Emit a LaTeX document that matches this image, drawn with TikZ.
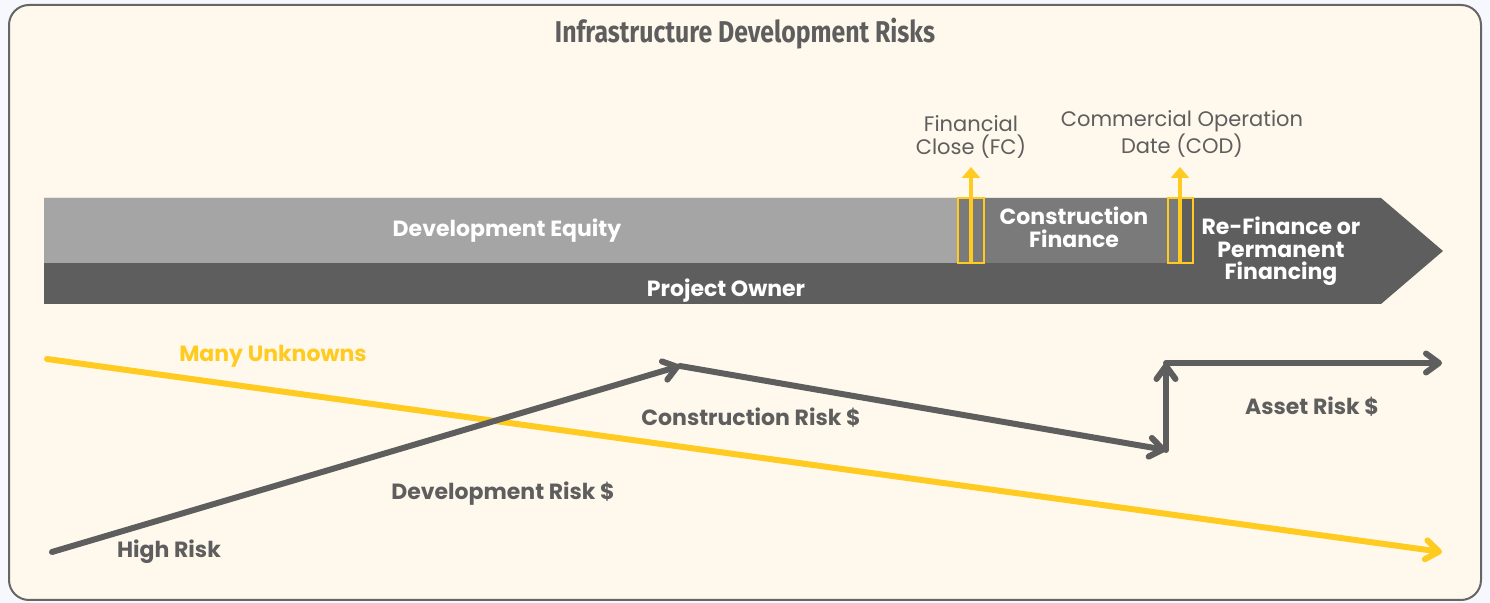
\documentclass[tikz,border=0pt]{standalone}
\usepackage{fontspec}
\setmainfont{Poppins}
\newfontfamily\titlefont{Fira Sans}
\usetikzlibrary{arrows.meta}
\definecolor{cream}{HTML}{FFF8EC}
\definecolor{outbg}{HTML}{F7F8FD}
\definecolor{framec}{HTML}{666666}
\definecolor{lightg}{HTML}{A5A5A5}
\definecolor{midg}{HTML}{7A7A7A}
\definecolor{darkg}{HTML}{5E5E5E}
\definecolor{ylw}{HTML}{FFCB21}
\definecolor{txtg}{HTML}{5E5E5E}
\begin{document}
\begin{tikzpicture}[x=0.5pt,y=-0.5pt,
  lbl/.style={font=\fontsize{11}{12}\selectfont\bfseries, text=txtg, anchor=base, inner sep=0pt},
  wlbl/.style={lbl, text=white},
  ylbl/.style={lbl, text=ylw},
  plbl/.style={font=\fontsize{10.5}{12}\selectfont, text=txtg, anchor=base, inner sep=0pt},
  riskline/.style={line width=3pt, draw=darkg, line cap=round, -{Straight Barb[length=6.5pt,width=9.5pt,round]}},
  unkline/.style={line width=3pt, draw=ylw, line cap=round, -{Straight Barb[length=6.5pt,width=9.5pt,round]}},
  marker/.style={draw=ylw, line width=1pt},
  stem/.style={draw=ylw, line width=2pt, -{Triangle[length=5.5pt,width=9pt]}}
]
\useasboundingbox (0,0) rectangle (1490,603);
\fill[outbg] (0,0) rectangle (1490,603);
\draw[framec, fill=cream, line width=1pt, rounded corners=10pt] (9,5) rectangle (1481,600);

% title
\node[anchor=base, inner sep=0pt, text=txtg] (title) at (745,43)
  {\titlefont\bfseries\resizebox{190pt}{12.2pt}{Infrastructure Development Risks}};

% band
\fill[darkg] (44,198) -- (1381,198) -- (1443,251) -- (1381,304) -- (44,304) -- cycle;
\fill[lightg] (44,198) rectangle (958,263);
\fill[midg] (958,198) rectangle (1181,263);

% milestone markers
\draw[marker] (958,198) rectangle (984,263);
\coordinate (fcb) at (971,263);
\coordinate (fct) at (971,167);
\draw[stem] (fcb) -- (fct);
\draw[marker] (1168,198) rectangle (1193,263);
\coordinate (codb) at (1180,263);
\coordinate (codt) at (1180,167);
\draw[stem] (codb) -- (codt);

% milestone labels
\node[plbl] (fc1) at (971,132) {Financial};
\node[plbl] (fc2) at (971,155) {Close (FC)};
\node[plbl] (cod1) at (1182,127) {Commercial Operation};
\node[plbl] (cod2) at (1182,154) {Date (COD)};

% band labels
\node[wlbl] (deveq) at (507,237) {Development Equity};
\node[wlbl] (cf1) at (1074,225) {Construction};
\node[wlbl] (cf2) at (1074,248) {Finance};
\node[wlbl] (rf1) at (1281,235) {Re-Finance or};
\node[wlbl] (rf2) at (1281,258) {Permanent};
\node[wlbl] (rf3) at (1281,280) {Financing};
\node[wlbl] (owner) at (726,297) {Project Owner};

% unknowns line
\coordinate (y0) at (47,359);
\coordinate (y1) at (1442,552);
\draw[unkline] (y0) -- (y1);

% risk path
\coordinate (d0) at (52,552);
\coordinate (d1) at (680,366);
\coordinate (d2) at (1166,450);
\coordinate (d3) at (1166,363);
\coordinate (d4) at (1442,363);
\draw[riskline] (d0) -- (d1);
\draw[riskline] (d1) -- (d2);
\draw[riskline] (d2) -- (d3);
\draw[riskline] (d3) -- (d4);

% labels
\node[ylbl] (many) at (273,362) {Many Unknowns};
\node[lbl] (high) at (169,558) {High Risk};
\node[lbl] (devrisk) at (503,500) {Development Risk \$};
\node[lbl] (conrisk) at (751,426) {Construction Risk \$};
\node[lbl] (asset) at (1312,415) {Asset Risk \$};
\end{tikzpicture}
\end{document}
